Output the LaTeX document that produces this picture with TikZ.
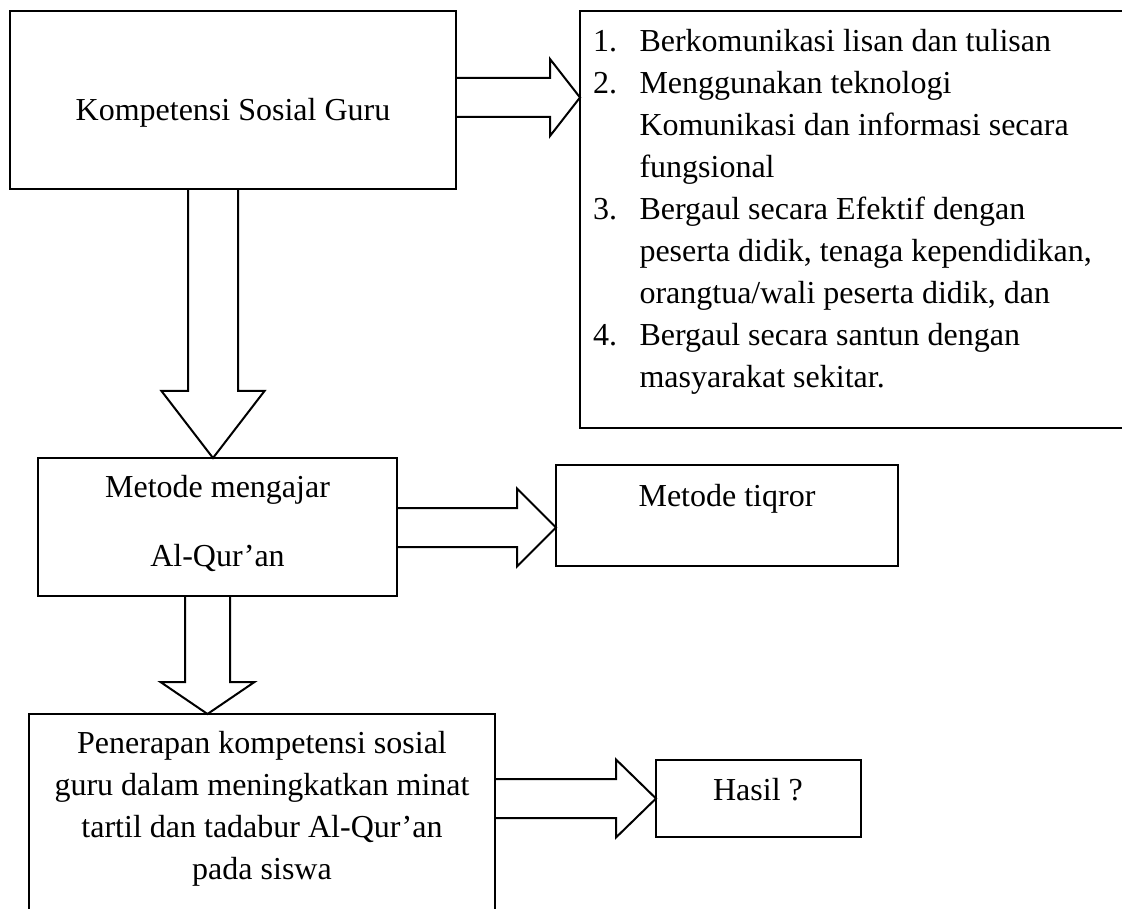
\documentclass[tikz,border=0pt]{standalone}
\usepackage{fontspec}
\setmainfont{Liberation Serif}
\newcommand\myRarrow[6]{% x0, x1, xtip, yc, half shaft, half head
  \draw[barrow] (#1,#4-#5) -- (#2,#4-#5) -- (#2,#4-#6) -- (#3,#4) -- (#2,#4+#6) -- (#2,#4+#5) -- (#1,#4+#5);}
\newcommand\myDarrow[6]{% y0, y1, ytip, xc, half shaft, half head
  \draw[barrow] (#4-#5,#1) -- (#4-#5,#2) -- (#4-#6,#2) -- (#4,#3) -- (#4+#6,#2) -- (#4+#5,#2) -- (#4+#5,#1);}
\begin{document}
\begin{tikzpicture}[x=0.75pt,y=-0.75pt,
  box/.style={draw, inner sep=0pt, outer sep=0pt, line width=1.5pt},
  txt/.style={inner sep=0pt, outer sep=0pt, font=\fontsize{24}{31.5}\selectfont},
  barrow/.style={draw, line width=1.5pt, line join=miter}]
\clip (0,0) rectangle (1122,909);
\fill[white] (0,0) rectangle (1122,909);

% boxes
\node[box, minimum width=446*0.75pt, minimum height=178*0.75pt] (b1) at (233,100) {};
\node[box, minimum width=555*0.75pt, minimum height=417*0.75pt] (blist) at (857.5,219.5) {};
\node[box, minimum width=359*0.75pt, minimum height=138*0.75pt] (b2) at (217.5,527) {};
\node[box, minimum width=342*0.75pt, minimum height=101*0.75pt] (b3) at (727,515.5) {};
\node[box, minimum width=466*0.75pt, minimum height=206*0.75pt] (b4) at (262,817) {};
\node[box, minimum width=205*0.75pt, minimum height=77*0.75pt] (b5) at (758.5,798.5) {};

% texts
\node[txt, anchor=base] (t1) at (233,121) {Kompetensi Sosial Guru};

\node[txt, anchor=base west] (n1) at (593,52) {1.};
\node[txt, anchor=base west] (n2) at (593,94) {2.};
\node[txt, anchor=base west] (n3) at (593,220) {3.};
\node[txt, anchor=base west] (n4) at (593,346) {4.};
\node[txt, anchor=base west] (l1) at (639.5,52) {Berkomunikasi lisan dan tulisan};
\node[txt, anchor=base west] (l2) at (639.5,94) {Menggunakan teknologi};
\node[txt, anchor=base west] (l3) at (639.5,136) {Komunikasi dan informasi secara};
\node[txt, anchor=base west] (l4) at (639.5,178) {fungsional};
\node[txt, anchor=base west] (l5) at (639.5,220) {Bergaul secara Efektif dengan};
\node[txt, anchor=base west] (l6) at (639.5,262) {peserta didik, tenaga kependidikan,};
\node[txt, anchor=base west] (l7) at (639.5,304) {orangtua/wali peserta didik, dan};
\node[txt, anchor=base west] (l8) at (639.5,346) {Bergaul secara santun dengan};
\node[txt, anchor=base west] (l9) at (639.5,388) {masyarakat sekitar.};

\node[txt, anchor=base] (t2a) at (217.5,498) {Metode mengajar};
\node[txt, anchor=base] (t2b) at (217.5,566) {Al-Qur’an};

\node[txt, anchor=base] (t3) at (727,506) {Metode tiqror};

\node[txt, anchor=base] (t4a) at (262,753) {Penerapan kompetensi sosial};
\node[txt, anchor=base] (t4b) at (262,795) {guru dalam meningkatkan minat};
\node[txt, anchor=base] (t4c) at (262,837) {tartil dan tadabur Al-Qur’an};
\node[txt, anchor=base] (t4d) at (262,879) {pada siswa};

\node[txt, anchor=base] (t5) at (758,800) {Hasil ?};

% block arrows
\myRarrow{456}{550}{580}{97.5}{19.5}{38.5}
\myRarrow{397}{517}{556}{527.5}{19.5}{39}
\myRarrow{495}{616}{656}{798.5}{19.5}{39}
\myDarrow{189}{391}{458}{213}{25}{51.5}
\myDarrow{596}{682}{714}{207.5}{22.5}{47}
\end{tikzpicture}
\end{document}
